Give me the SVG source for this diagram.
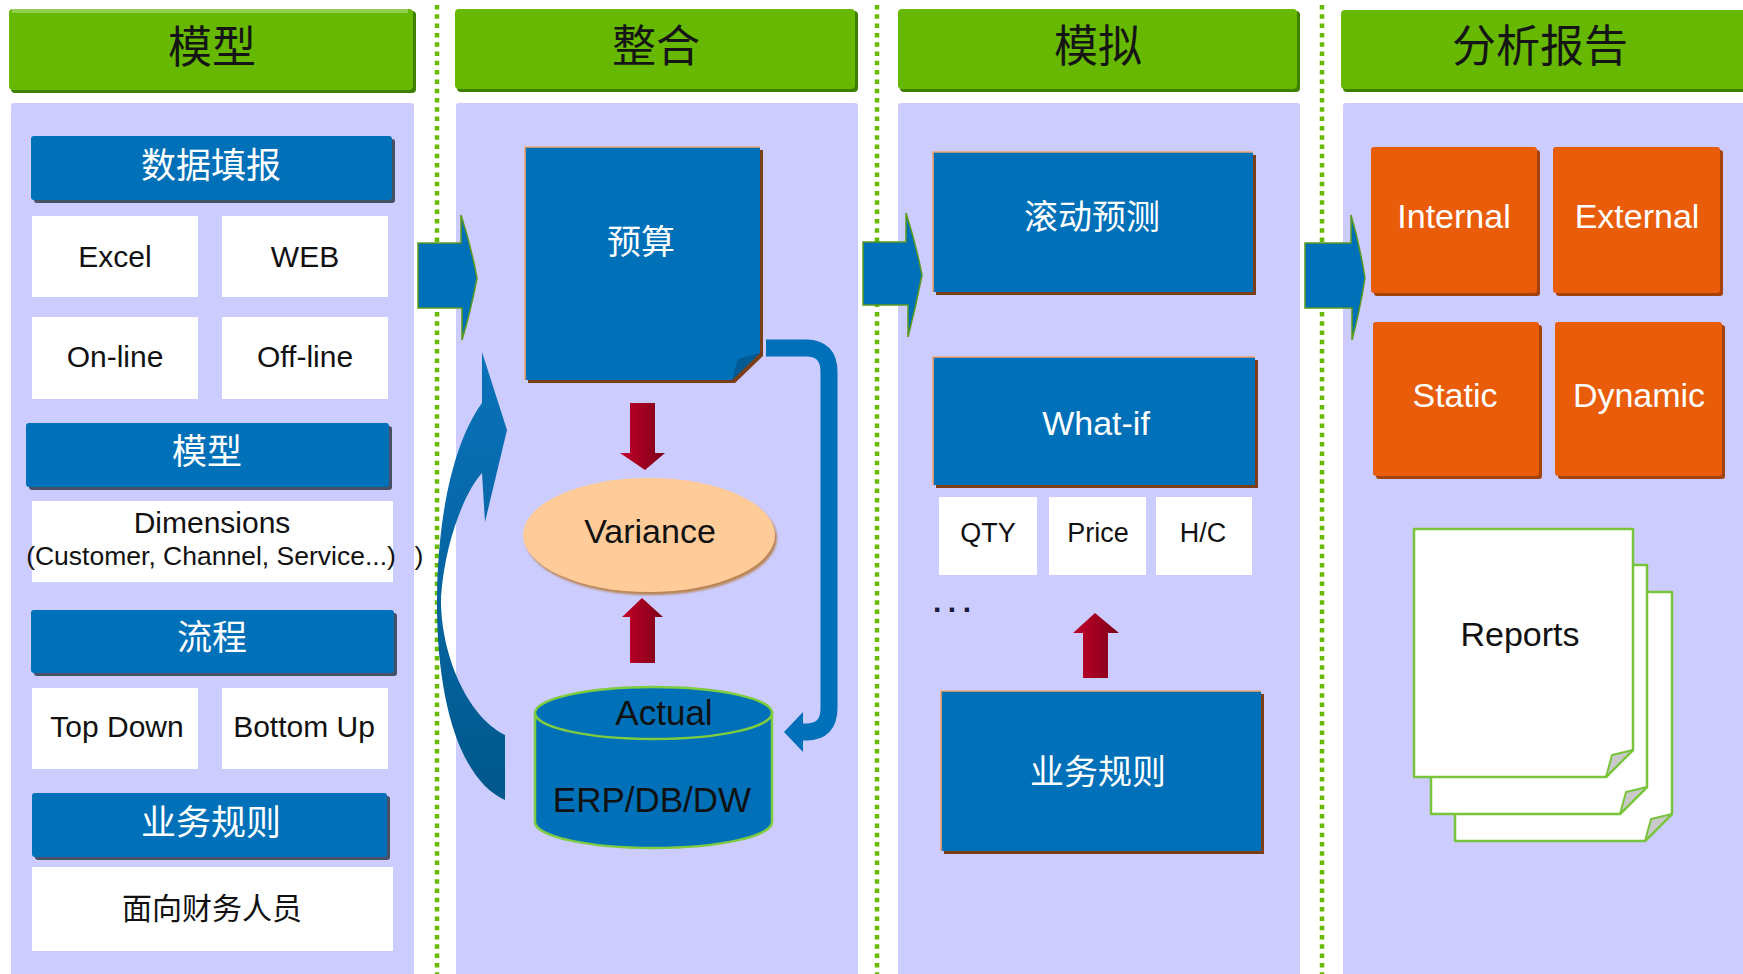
<svg xmlns="http://www.w3.org/2000/svg" width="1743" height="974" viewBox="0 0 1743 974">
  <style>
    .cjk { font-family: "Noto Sans CJK SC", "Liberation Sans", sans-serif; text-anchor: middle; }
    .lat { font-family: "Liberation Sans", Arial, sans-serif; text-anchor: middle; }
    .hdr-t { font-size: 44px; fill: #151515; }
    .bar-t { font-size: 35px; fill: #ffffff; }
    .cell { fill: #ffffff; }
    .cell-t { font-size: 30px; fill: #111111; }
    .big-w { font-size: 34px; fill: #ffffff; }
    .big-k { font-size: 34px; fill: #111111; }
    .small-t { font-size: 26.5px; fill: #111111; }
    .panel { fill: #ccccff; }
    .hdr { fill: #66b800; }
    .hdr-hi { fill: #8fd14f; }
    .hdr-sh { fill: #3f7f00; }
    .blue { fill: #0070b8; }
    .bar-sh { fill: #2e3b4a; opacity: 0.85; }
    .box-sh { fill: #7a3f18; }
    .box-edge { fill: none; stroke: #f2a46c; stroke-width: 1.6; }
    .orange { fill: #e95c0a; }
    .orange-sh { fill: #a3420a; }
    .red { fill: url(#redGrad); }
    .divider { stroke: #66bb00; stroke-width: 4.5; stroke-dasharray: 4.5 4.8; fill: none; }
    .flow { fill: #0070b8; stroke: #5a9a1e; stroke-width: 1.5; }
    .page { fill: #ffffff; stroke: #78c43a; stroke-width: 2.5; stroke-linejoin: round; }
    .fold { fill: #c9c9c9; stroke: #78c43a; stroke-width: 2; stroke-linejoin: round; }
  </style>
  <defs>
    <linearGradient id="redGrad" x1="0" y1="0" x2="1" y2="0">
      <stop offset="0" stop-color="#c0002a"/>
      <stop offset="0.5" stop-color="#a00020"/>
      <stop offset="1" stop-color="#7c0018"/>
    </linearGradient>
    <linearGradient id="arcGrad" x1="0" y1="0" x2="0" y2="1">
      <stop offset="0" stop-color="#0a72ba"/>
      <stop offset="1" stop-color="#00588c"/>
    </linearGradient>
    <filter id="soft" x="-10%" y="-10%" width="120%" height="120%">
      <feGaussianBlur stdDeviation="1"/>
    </filter>
  </defs>

  <!-- page background -->
  <rect x="0" y="0" width="1743" height="974" fill="#ffffff"/>

  <!-- column panels -->
  <g id="panels">
    <rect class="panel" x="11" y="103" width="403" height="880" rx="3"/>
    <rect class="panel" x="456" y="103" width="402" height="880" rx="3"/>
    <rect class="panel" x="898" y="103" width="402" height="880" rx="3"/>
    <rect class="panel" x="1343" y="103" width="410" height="880" rx="3"/>
  </g>

  <!-- dotted column dividers -->
  <g id="dividers">
    <line class="divider" x1="437" y1="5" x2="437" y2="974"/>
    <line class="divider" x1="877" y1="5" x2="877" y2="974"/>
    <line class="divider" x1="1322" y1="5" x2="1322" y2="974"/>
  </g>

  <!-- column headers -->
  <g id="header-model">
    <rect class="hdr-sh" x="11" y="11" width="405" height="82" rx="4"/>
    <rect class="hdr" x="9" y="9" width="404" height="81" rx="4"/>
    <rect class="hdr-hi" x="12" y="9" width="396" height="4"/>
    <text class="cjk hdr-t" x="212" y="63">模型</text>
  </g>
  <g id="header-integrate">
    <rect class="hdr-sh" x="457" y="11" width="401" height="81" rx="4"/>
    <rect class="hdr" x="455" y="9" width="400" height="80" rx="4"/>
    <text class="cjk hdr-t" x="656" y="62">整合</text>
  </g>
  <g id="header-simulate">
    <rect class="hdr-sh" x="900" y="11" width="400" height="81" rx="4"/>
    <rect class="hdr" x="898" y="9" width="399" height="80" rx="4"/>
    <text class="cjk hdr-t" x="1098" y="62">模拟</text>
  </g>
  <g id="header-report">
    <rect class="hdr-sh" x="1343" y="12" width="410" height="80" rx="4"/>
    <rect class="hdr" x="1341" y="10" width="410" height="79" rx="4"/>
    <text class="cjk hdr-t" x="1540" y="62">分析报告</text>
  </g>

  <!-- column 1: modelling -->
  <g id="bar-data-entry">
    <rect class="bar-sh" x="34" y="139" width="361" height="64" rx="3"/>
    <rect class="blue" x="31" y="136" width="361" height="64" rx="3"/>
    <text class="cjk bar-t" x="211" y="178">数据填报</text>
  </g>
  <g id="cell-excel">
    <rect class="cell" x="32" y="216" width="166" height="81"/>
    <text class="lat cell-t" x="115" y="267">Excel</text>
  </g>
  <g id="cell-web">
    <rect class="cell" x="222" y="216" width="166" height="81"/>
    <text class="lat cell-t" x="305" y="267">WEB</text>
  </g>
  <g id="cell-online">
    <rect class="cell" x="32" y="317" width="166" height="82"/>
    <text class="lat cell-t" x="115" y="367">On-line</text>
  </g>
  <g id="cell-offline">
    <rect class="cell" x="222" y="317" width="166" height="82"/>
    <text class="lat cell-t" x="305" y="367">Off-line</text>
  </g>
  <g id="bar-model">
    <rect class="bar-sh" x="29" y="426" width="363" height="64" rx="3"/>
    <rect class="blue" x="26" y="423" width="363" height="64" rx="3"/>
    <text class="cjk bar-t" x="207" y="464">模型</text>
  </g>
  <g id="cell-dimensions">
    <rect class="cell" x="32" y="501" width="361" height="81"/>
    <text class="lat cell-t" x="212" y="533">Dimensions</text>
    <text class="lat small-t" x="211" y="565">(Customer, Channel, Service...)</text>
    <text class="lat small-t" x="419" y="565" fill="#2a3560">)</text>
  </g>
  <g id="bar-process">
    <rect class="bar-sh" x="34" y="613" width="363" height="63" rx="3"/>
    <rect class="blue" x="31" y="610" width="363" height="63" rx="3"/>
    <text class="cjk bar-t" x="212" y="650">流程</text>
  </g>
  <g id="cell-topdown">
    <rect class="cell" x="32" y="688" width="166" height="81"/>
    <text class="lat cell-t" x="117" y="737">Top Down</text>
  </g>
  <g id="cell-bottomup">
    <rect class="cell" x="222" y="688" width="166" height="81"/>
    <text class="lat cell-t" x="304" y="737">Bottom Up</text>
  </g>
  <g id="bar-rules">
    <rect class="bar-sh" x="35" y="796" width="355" height="64" rx="3"/>
    <rect class="blue" x="32" y="793" width="355" height="64" rx="3"/>
    <text class="cjk bar-t" x="211" y="835">业务规则</text>
  </g>
  <g id="cell-finance">
    <rect class="cell" x="32" y="867" width="361" height="84"/>
    <text class="cjk" x="212" y="919" font-size="30" fill="#111111">面向财务人员</text>
  </g>

  <!-- column 2: integration -->
  <g id="node-budget">
    <path class="box-sh" d="M528,150 H763 V356 L735,383 H528 Z"/>
    <path class="blue" d="M525,147 H760 V353 L732,380 H525 Z"/>
    <path d="M760,353 L732,380 L738,359 Z" fill="#005a94"/>
    <path class="box-edge" d="M525,380 V147 H760"/>
    <text class="cjk big-w" x="641" y="254">预算</text>
  </g>
  <g id="node-variance">
    <ellipse cx="651" cy="538" rx="126" ry="57" fill="#b98555" filter="url(#soft)"/>
    <ellipse cx="649" cy="535" rx="126" ry="57" fill="#ffcc99"/>
    <text class="lat big-k" x="650" y="543">Variance</text>
  </g>
  <g id="node-actual">
    <path d="M535,713 V822 A118.5,26 0 0 0 772,822 V713 Z" fill="#0070b8" stroke="#80cc40" stroke-width="2.5"/>
    <ellipse cx="653.5" cy="713" rx="118.5" ry="26" fill="#0070b8" stroke="#80cc40" stroke-width="2.5"/>
    <text class="lat" x="664" y="725" font-size="35" fill="#111111">Actual</text>
    <text class="lat" x="652" y="812" font-size="35" fill="#111111">ERP/DB/DW</text>
  </g>

  <!-- column 3: simulation -->
  <g id="node-rolling">
    <rect class="box-sh" x="936" y="155" width="320" height="140"/>
    <rect class="blue" x="933" y="152" width="320" height="140"/>
    <path class="box-edge" d="M933,292 V152 H1253"/>
    <text class="cjk big-w" x="1092" y="229">滚动预测</text>
  </g>
  <g id="node-whatif">
    <rect class="box-sh" x="936" y="360" width="322" height="128"/>
    <rect class="blue" x="933" y="357" width="322" height="128"/>
    <path class="box-edge" d="M933,485 V357 H1255"/>
    <text class="lat big-w" x="1096" y="435">What-if</text>
  </g>
  <g id="cell-qty">
    <rect class="cell" x="939" y="497" width="98" height="78"/>
    <text class="lat" x="988" y="542" font-size="27" fill="#111111">QTY</text>
  </g>
  <g id="cell-price">
    <rect class="cell" x="1049" y="497" width="97" height="78"/>
    <text class="lat" x="1098" y="542" font-size="27" fill="#111111">Price</text>
  </g>
  <g id="cell-hc">
    <rect class="cell" x="1156" y="497" width="96" height="78"/>
    <text class="lat" x="1203" y="542" font-size="27" fill="#111111">H/C</text>
  </g>
  <g id="more">
    <text x="933" y="612" font-family="Liberation Sans, Arial, sans-serif" font-size="30" font-weight="bold" letter-spacing="6.5" fill="#1a1a3a" style="text-anchor:start">...</text>
  </g>
  <g id="node-rules">
    <rect class="box-sh" x="944" y="694" width="320" height="160"/>
    <rect class="blue" x="941" y="691" width="320" height="160"/>
    <path class="box-edge" d="M941,851 V691 H1261"/>
    <text class="cjk big-w" x="1098" y="784">业务规则</text>
  </g>

  <!-- column 4: reporting -->
  <g id="node-internal">
    <rect class="orange-sh" x="1374" y="150" width="166" height="146" rx="3"/>
    <rect class="orange" x="1371" y="147" width="166" height="146" rx="3"/>
    <text class="lat big-w" x="1454" y="228">Internal</text>
  </g>
  <g id="node-external">
    <rect class="orange-sh" x="1556" y="150" width="167" height="146" rx="3"/>
    <rect class="orange" x="1553" y="147" width="167" height="146" rx="3"/>
    <text class="lat big-w" x="1637" y="228">External</text>
  </g>
  <g id="node-static">
    <rect class="orange-sh" x="1376" y="325" width="166" height="154" rx="3"/>
    <rect class="orange" x="1373" y="322" width="166" height="154" rx="3"/>
    <text class="lat big-w" x="1455" y="407">Static</text>
  </g>
  <g id="node-dynamic">
    <rect class="orange-sh" x="1558" y="325" width="167" height="154" rx="3"/>
    <rect class="orange" x="1555" y="322" width="167" height="154" rx="3"/>
    <text class="lat big-w" x="1639" y="407">Dynamic</text>
  </g>
  <g id="node-reports">
    <path class="page" d="M1455,592 H1672 V814 L1645,841 H1455 Z"/>
    <path class="fold" d="M1645,841 L1672,814 L1651,819 Z"/>
    <path class="page" d="M1431,565 H1647 V787 L1620,814 H1431 Z"/>
    <path class="fold" d="M1620,814 L1647,787 L1626,792 Z"/>
    <path class="page" d="M1414,529 H1633 V750 L1606,777 H1414 Z"/>
    <path class="fold" d="M1606,777 L1633,750 L1612,755 Z"/>
    <text class="lat big-k" x="1520" y="646">Reports</text>
  </g>

  <!-- connectors -->
  <g id="connectors">
    <!-- stage arrows between columns -->
    <path class="flow" d="M418,243 H461 V215 Q471,246 477,278 Q471,310 462,340 V308 H418 Z"/>
    <path class="flow" d="M863,242 H906 V213 Q916,244 922,275 Q916,306 908,337 V305 H863 Z"/>
    <path class="flow" d="M1305,243 H1351 V215 Q1360,246 1365,278 Q1360,310 1352,340 V308 H1305 Z"/>

    <!-- curved feedback arrow from actuals up to budget -->
    <path fill="url(#arcGrad)" d="M482,352 L507,430 L485,522 L482,473 C466,490 445,540 441,597 C440,650 465,715 505,735 L505,800 C460,780 436,700 437,597 C438,510 455,440 482,403 Z"/>

    <!-- loop from budget down to actuals -->
    <path d="M766,348 H806 Q829,348 829,372 V708 Q829,732 806,732 H800" fill="none" stroke="#0070b8" stroke-width="17"/>
    <path d="M784,732 L803,712 L803,752 Z" fill="#0070b8"/>

    <!-- budget to variance -->
    <path class="red" d="M630,403 H655 V453 H665 L645,470 L620,453 H630 Z"/>
    <!-- actuals to variance -->
    <path class="red" d="M630,663 V617 H622 L642,598 L663,617 H655 V663 Z"/>
    <!-- business rules to what-if -->
    <path class="red" d="M1083,678 V633 H1073 L1095,613 L1119,633 H1108 V678 Z"/>
  </g>
</svg>
